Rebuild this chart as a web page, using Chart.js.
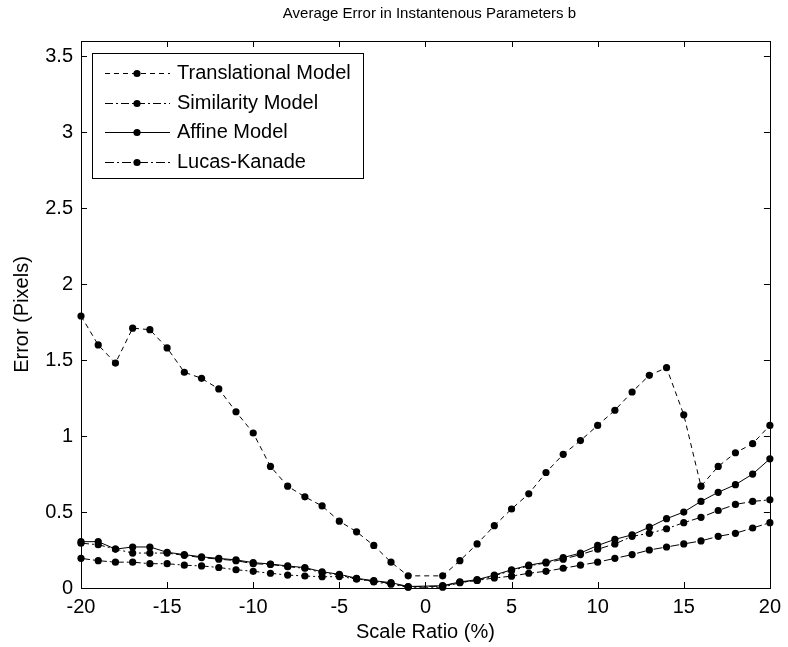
<!DOCTYPE html>
<html>
<head>
<meta charset="utf-8">
<script src="https://cdn.jsdelivr.net/npm/chart.js@4/dist/chart.umd.min.js"></script>
<style>
  html, body { margin: 0; padding: 0; background: #fff; }
  #wrap { width: 788px; height: 647px; }
</style>
</head>
<body>
<div id="wrap"><canvas id="c" width="788" height="647"></canvas></div>
<script>
// Scale ratio (%) sampled at every integer step, skipping 0
const scaleRatio = [-20,-19,-18,-17,-16,-15,-14,-13,-12,-11,-10,-9,-8,-7,-6,-5,-4,-3,-2,-1,
                    1,2,3,4,5,6,7,8,9,10,11,12,13,14,15,16,17,18,19,20];

// Average error (pixels) per motion model
const translational = [1.79,1.60,1.48,1.71,1.70,1.58,1.42,1.38,1.31,1.16,1.02,0.80,0.67,0.60,0.54,0.44,0.37,0.28,0.17,0.08,
                       0.08,0.18,0.29,0.41,0.52,0.62,0.76,0.88,0.97,1.07,1.17,1.29,1.40,1.45,1.14,0.67,0.80,0.89,0.95,1.07];
const similarity    = [0.295,0.285,0.256,0.23,0.23,0.23,0.215,0.20,0.19,0.18,0.16,0.155,0.14,0.13,0.10,0.085,0.06,0.045,0.03,0.008,
                       0.012,0.038,0.05,0.08,0.115,0.145,0.165,0.19,0.22,0.255,0.29,0.34,0.36,0.39,0.43,0.465,0.51,0.55,0.57,0.58];
const affine        = [0.305,0.305,0.256,0.27,0.27,0.235,0.22,0.205,0.195,0.185,0.167,0.158,0.145,0.134,0.107,0.09,0.064,0.048,0.035,0.01,
                       0.015,0.04,0.055,0.085,0.12,0.15,0.17,0.20,0.23,0.28,0.32,0.35,0.40,0.456,0.50,0.57,0.63,0.68,0.75,0.85];
const lucasKanade   = [0.195,0.18,0.17,0.17,0.16,0.16,0.15,0.145,0.135,0.12,0.11,0.097,0.085,0.079,0.074,0.075,0.06,0.04,0.025,0.005,
                       0.005,0.035,0.05,0.066,0.078,0.097,0.11,0.13,0.15,0.17,0.195,0.22,0.25,0.27,0.29,0.31,0.34,0.36,0.395,0.43];

const seriesNames = ['Translational Model', 'Similarity Model', 'Affine Model', 'Lucas-Kanade'];
const xTicks = [-20, -15, -10, -5, 0, 5, 10, 15, 20];
const yTicks = [0, 0.5, 1, 1.5, 2, 2.5, 3, 3.5];
const chartTitle = 'Average Error in Instantenous Parameters b';

const FONT = '"Liberation Sans", Arial, Helvetica, sans-serif';

function pts(vals) { return scaleRatio.map((x, i) => ({ x: x, y: vals[i] })); }

function lineSet(label, vals, dash) {
  return {
    label: label,
    data: pts(vals),
    borderColor: '#000',
    borderWidth: 1,
    borderDash: dash,
    backgroundColor: '#000',
    pointRadius: 3.6,
    pointHoverRadius: 3.6,
    pointBackgroundColor: '#000',
    pointBorderWidth: 0,
    tension: 0,
    clip: false,
    fill: false
  };
}

// Title centred over the plotting area
const plotTitle = {
  id: 'plotTitle',
  afterDraw(chart) {
    const { ctx, chartArea: a } = chart;
    ctx.save();
    ctx.fillStyle = '#000';
    ctx.font = '15px ' + FONT;
    ctx.textAlign = 'center';
    ctx.textBaseline = 'middle';
    ctx.fillText(chartTitle, (a.left + a.right) / 2 + 4, 14);
    ctx.restore();
  }
};

// Box frame with inward tick marks on all four sides
const frameTicks = {
  id: 'frameTicks',
  afterDatasetsDraw(chart) {
    const { ctx, chartArea: a, scales: { x, y } } = chart;
    const L = 6;
    ctx.save();
    ctx.strokeStyle = '#000';
    ctx.lineWidth = 1;
    ctx.setLineDash([]);
    ctx.strokeRect(Math.round(a.left) + 0.5, Math.round(a.top) + 0.5,
                   Math.round(a.right - a.left), Math.round(a.bottom - a.top));
    ctx.beginPath();
    xTicks.forEach(v => {
      const px = Math.round(x.getPixelForValue(v)) + 0.5;
      ctx.moveTo(px, a.bottom); ctx.lineTo(px, a.bottom - L);
      ctx.moveTo(px, a.top); ctx.lineTo(px, a.top + L);
    });
    yTicks.forEach(v => {
      const py = Math.round(y.getPixelForValue(v)) + 0.5;
      ctx.moveTo(a.left, py); ctx.lineTo(a.left + L, py);
      ctx.moveTo(a.right, py); ctx.lineTo(a.right - L, py);
    });
    ctx.stroke();
    ctx.restore();
  }
};

// Boxed legend in the upper-left corner of the plot
const boxedLegend = {
  id: 'boxedLegend',
  afterDraw(chart) {
    const { ctx, chartArea: a } = chart;
    const x0 = Math.round(a.left) + 11, y0 = Math.round(a.top) + 12, w = 271, h = 125;
    ctx.save();
    ctx.fillStyle = '#fff';
    ctx.fillRect(x0, y0, w, h);
    ctx.strokeStyle = '#000';
    ctx.lineWidth = 1;
    ctx.setLineDash([]);
    ctx.strokeRect(x0 + 0.5, y0 + 0.5, w, h);
    ctx.font = '20px ' + FONT;
    ctx.textBaseline = 'middle';
    ctx.textAlign = 'left';
    chart.data.datasets.forEach((ds, i) => {
      const cy = Math.round(y0 + 20 + i * 29.7) + 0.5;
      ctx.beginPath();
      ctx.setLineDash(ds.borderDash || []);
      ctx.moveTo(x0 + 13, cy);
      ctx.lineTo(x0 + 78, cy);
      ctx.stroke();
      ctx.setLineDash([]);
      ctx.fillStyle = '#000';
      ctx.beginPath();
      ctx.arc(x0 + 45, cy, 3.6, 0, Math.PI * 2);
      ctx.fill();
      ctx.fillText(ds.label, x0 + 85, cy);
    });
    ctx.restore();
  }
};

new Chart(document.getElementById('c'), {
  type: 'line',
  data: {
    datasets: [
      lineSet(seriesNames[0], translational, [5, 4]),
      lineSet(seriesNames[1], similarity, [8, 3, 2, 3]),
      lineSet(seriesNames[2], affine, []),
      lineSet(seriesNames[3], lucasKanade, [9, 3, 2, 3])
    ]
  },
  options: {
    responsive: false,
    animation: false,
    devicePixelRatio: 1,
    layout: { padding: { top: 41, right: 14, bottom: 0, left: 0 } },
    plugins: {
      legend: { display: false },
      tooltip: { enabled: false },
      title: { display: false }
    },
    scales: {
      x: {
        type: 'linear',
        min: -20,
        max: 20,
        afterFit(s) { s.height = 59; },
        afterBuildTicks(s) { s.ticks = xTicks.map(v => ({ value: v })); },
        grid: { display: false, drawTicks: false },
        border: { display: false },
        ticks: { color: '#000', padding: 7, maxRotation: 0, font: { family: FONT, size: 20 },
                 callback: v => String(v) },
        title: {
          display: true,
          text: 'Scale Ratio (%)',
          color: '#000',
          font: { family: FONT, size: 20 },
          padding: { top: 0, bottom: 3 }
        }
      },
      y: {
        type: 'linear',
        min: 0,
        max: 3.6,
        afterFit(s) { s.width = 81; },
        afterBuildTicks(s) { s.ticks = yTicks.map(v => ({ value: v })); },
        grid: { display: false, drawTicks: false },
        border: { display: false },
        ticks: { color: '#000', padding: 8, font: { family: FONT, size: 20 },
                 callback: v => String(v) },
        title: {
          display: true,
          text: 'Error (Pixels)',
          color: '#000',
          font: { family: FONT, size: 20 },
          padding: { top: 10, bottom: 0 }
        }
      }
    }
  },
  plugins: [frameTicks, boxedLegend, plotTitle]
});
</script>
</body>
</html>
